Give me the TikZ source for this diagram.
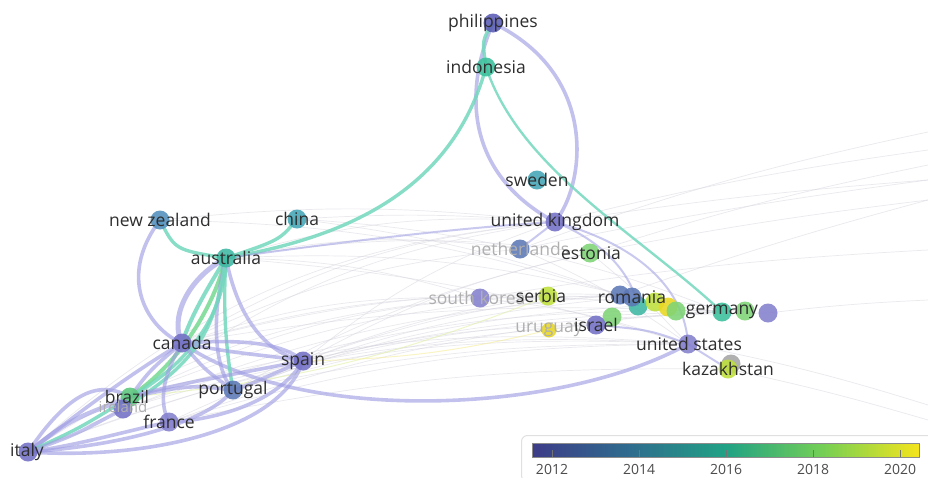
\documentclass[tikz,border=0pt]{standalone}
\usepackage{fontspec}
\setmainfont{Open Sans}
\usetikzlibrary{backgrounds}
\definecolor{epur}{HTML}{9E9CE2}
\definecolor{etea}{HTML}{74D8BE}
\definecolor{egrn}{HTML}{6CD68A}
\definecolor{faintc}{HTML}{D4D4DE}
\definecolor{cpur}{HTML}{7470C6}
\definecolor{cpur2}{HTML}{8580CE}
\definecolor{cdblue}{HTML}{5A5CB4}
\definecolor{cblue}{HTML}{5C78B6}
\definecolor{cblue2}{HTML}{5390BE}
\definecolor{ctealb}{HTML}{44A6B6}
\definecolor{cteal}{HTML}{3DB8A2}
\definecolor{cteal2}{HTML}{3BC09C}
\definecolor{cgrn}{HTML}{5CC87C}
\definecolor{clgrn}{HTML}{7ED476}
\definecolor{cygrn}{HTML}{BFE03C}
\definecolor{cyel}{HTML}{EAD820}
\definecolor{labc}{HTML}{2E2E2E}
\definecolor{fadec}{HTML}{AFAFAF}
\definecolor{v0}{HTML}{3D3C88}
\definecolor{v1}{HTML}{2F6C8E}
\definecolor{v2}{HTML}{21A285}
\definecolor{v3}{HTML}{74CF55}
\definecolor{v4}{HTML}{F5E51C}
\pgfdeclarehorizontalshading{viridisbar}{100bp}{color(0bp)=(v0); color(25bp)=(v0); color(37.5bp)=(v1); color(50bp)=(v2); color(62.5bp)=(v3); color(75bp)=(v4); color(100bp)=(v4)}
\tikzset{
  bub/.style={circle, minimum size=19pt, inner sep=0pt, fill opacity=0.88},
  lab/.style={text=labc, font=\fontsize{17.5}{18}\selectfont, inner sep=0pt},
  fadelab/.style={lab, text=fadec},
  pe/.style={draw=epur, line width=3.6pt, opacity=0.62},
  pthin/.style={draw=epur, line width=2pt, opacity=0.55},
  te/.style={draw=etea, line width=3.4pt, opacity=0.85},
  ge/.style={draw=egrn, line width=4pt, opacity=0.8},
  fe/.style={draw=faintc, line width=0.7pt, opacity=0.5},
  tickl/.style={text=black!70, font=\fontsize{14}{15}\selectfont, inner sep=0pt}
}
\begin{document}
\begin{tikzpicture}[x=1pt,y=-1pt]
\useasboundingbox (0,0) rectangle (928,477);

% ---------- nodes (circles) ----------
\node[bub, fill=cdblue] (phil) at (493,23) {};
\node[bub, fill=cteal2] (indo) at (486,67) {};
\node[bub, fill=ctealb] (swe) at (537,180) {};
\node[bub, fill=cpur] (uk) at (555,222) {};
\node[bub, fill=cblue] (neth) at (520,249) {};
\node[bub, fill=clgrn] (est) at (590,253) {};
\node[bub, fill=ctealb] (chn) at (297,219) {};
\node[bub, fill=cblue2] (nz) at (160,220) {};
\node[bub, fill=cteal] (aus) at (226,258) {};
\node[bub, fill=cpur] (can) at (182,343) {};
\node[bub, fill=cpur] (spa) at (303,361) {};
\node[bub, fill=cblue] (por) at (233,390) {};
\node[bub, fill=cgrn] (bra) at (130,397) {};
\node[bub, fill=cpur] (ire) at (123,409) {};
\node[bub, fill=cpur2] (fra) at (169,422) {};
\node[bub, fill=cpur] (ita) at (28,452) {};
\node[bub, fill=cpur2] (sko) at (480,298) {};
\node[bub, fill=cygrn] (ser) at (548,296) {};
\node[bub, fill=cyel, minimum size=15pt] (uru) at (549,330) {};
\node[bub, fill=clgrn] (isg) at (612,317) {};
\node[bub, fill=cpur] (isr) at (596,325) {};
\node[bub, fill=cblue] (rom1) at (620,295) {};
\node[bub, fill=cteal] (rom2) at (638,306) {};
\node[bub, fill=cblue] (rom3) at (632,297) {};
\node[bub, fill=cygrn] (rom4) at (655,302) {};
\node[bub, fill=cyel] (rom5) at (668,307) {};
\node[bub, fill=clgrn] (rom6) at (676,311) {};
\node[bub, fill=cteal2] (ger1) at (722,312) {};
\node[bub, fill=clgrn] (ger2) at (745,311) {};
\node[bub, fill=cpur2] (ger3) at (768,313) {};
\node[bub, fill=cpur2] (usa) at (688,344) {};
\node[bub, fill=black!35] (kaz2) at (731,364) {};
\node[bub, fill=cygrn] (kaz) at (728,369) {};

% right-edge anchors for faint links
\coordinate (r1) at (928,132);
\coordinate (r2) at (928,150);
\coordinate (r3) at (928,165);
\coordinate (r4) at (928,180);
\coordinate (r5) at (928,200);
\coordinate (r6) at (928,250);
\coordinate (r7) at (928,300);
\coordinate (r8) at (928,405);
\coordinate (r9) at (928,420);

\begin{scope}[on background layer]
\fill[white] (0,0) rectangle (928,477);
% ---------- faint background links ----------
\foreach \a/\b/\bd in {can/uk/12, can/neth/10, can/ser/8, can/rom1/8, can/ger1/6, can/sko/10,
  aus/uk/10, aus/est/8, aus/rom3/8, aus/usa/6, aus/neth/9, aus/sko/8,
  spa/rom1/8, spa/ger1/6, spa/isr/6, spa/uk/10, spa/ser/6, spa/est/8,
  ita/usa/12, ita/rom1/10, ita/ger3/10, ita/uk/18, ita/sko/14,
  bra/rom1/10, bra/uk/14, bra/usa/10, bra/ser/12,
  por/rom2/8, por/usa/6, por/isr/6, por/est/8,
  fra/ger1/8, fra/usa/8, fra/rom3/10, fra/kaz/6,
  nz/uk/6, nz/rom1/8, chn/uk/4, chn/rom1/6, chn/neth/4, ire/usa/10, ire/ger2/10,
  neth/ger1/4, neth/usa/6, sko/ger1/4, ser/ger2/4, est/usa/4, sko/usa/6, uru/ger1/4}
  { \draw[fe] (\a.center) to[bend left=\bd] (\b.center); }
\foreach \a/\b/\bd in {neth/r1/4, uk/r2/3, est/r3/3, neth/r4/2, rom1/r5/2, sko/r6/3,
  ger3/r7/2, usa/r8/3, kaz/r9/2, uk/r4/2, est/r5/2}
  { \draw[fe] (\a.center) to[bend left=\bd] (\b); }
\draw[draw=cygrn!45, line width=1pt, opacity=0.6] (ser.center) to[bend left=8] (bra.center);
\draw[draw=cyel!45, line width=1pt, opacity=0.6] (uru.center) to[bend left=6] (spa.center);

% ---------- main links ----------
\draw[pe] (phil.center) .. controls (462,95) and (468,175) .. (uk.center);
\draw[pe] (phil.center) .. controls (600,75) and (585,185) .. (uk.center);
\draw[te] (phil.center) .. controls (482,40) .. (indo.center);
\draw[te] (indo.center) .. controls (450,200) and (330,240) .. (aus.center);
\draw[te, line width=2.4pt] (indo.center) .. controls (520,170) and (640,235) .. (ger1.center);
\draw[pthin] (uk.center) .. controls (640,245) and (685,290) .. (usa.center);
\draw[pthin] (uk.center) .. controls (600,240) and (630,270) .. (rom2.center);
\draw[pthin] (uk.center) -- (neth.center);
\draw[pthin] (usa.center) -- (kaz.center);
\draw[pthin] (usa.center) .. controls (650,330) .. (isr.center);
\draw[pe] (can.center) .. controls (300,425) and (560,415) .. (usa.center);
\draw[pthin] (aus.center) .. controls (320,245) and (450,228) .. (uk.center);

% left cluster
\draw[pe] (nz.center) .. controls (115,280) and (150,330) .. (can.center);
\draw[te] (nz.center) .. controls (175,250) .. (aus.center);
\draw[te] (chn.center) .. controls (280,240) .. (aus.center);
\draw[pe, line width=5pt] (aus.center) .. controls (185,280) and (170,320) .. (can.center);
\draw[te, line width=4pt] (aus.center) .. controls (200,300) and (190,320) .. (can.center);
\draw[ge] (aus.center) .. controls (210,320) and (170,370) .. (bra.center);
\draw[te] (aus.center) .. controls (225,320) and (180,370) .. (bra.center);
\draw[pe] (aus.center) .. controls (210,320) and (215,370) .. (por.center);
\draw[te] (aus.center) .. controls (222,320) and (228,360) .. (por.center);
\draw[pe] (aus.center) .. controls (240,330) and (275,355) .. (spa.center);
\draw[te] (aus.center) .. controls (215,330) and (200,360) .. (ire.center);
\draw[pe] (can.center) .. controls (240,355) and (270,355) .. (spa.center);
\draw[pe] (can.center) .. controls (230,340) and (280,340) .. (spa.center);
\draw[pe] (can.center) .. controls (205,370) .. (por.center);
\draw[pe] (can.center) .. controls (160,380) and (160,405) .. (fra.center);
\draw[pe] (can.center) .. controls (150,370) .. (bra.center);
\draw[pe] (can.center) .. controls (120,380) and (70,420) .. (ita.center);
\draw[pe] (spa.center) .. controls (270,375) and (250,385) .. (por.center);
\draw[pe] (spa.center) .. controls (230,375) and (170,385) .. (bra.center);
\draw[pe] (spa.center) .. controls (280,400) and (220,420) .. (fra.center);
\draw[pe] (por.center) .. controls (190,385) .. (bra.center);
\draw[pe] (ita.center) .. controls (150,460) and (280,430) .. (spa.center);
\draw[pe] (ita.center) .. controls (130,445) and (210,420) .. (por.center);
\draw[pe] (ita.center) .. controls (80,445) and (130,430) .. (fra.center);
\draw[pe, line width=4.5pt] (ita.center) .. controls (70,420) .. (bra.center);
\draw[te] (ita.center) .. controls (80,428) .. (bra.center);
\draw[pe] (ita.center) .. controls (70,390) and (100,380) .. (bra.center);
\draw[pe] (ita.center) .. controls (75,435) .. (ire.center);
\end{scope}

% ---------- labels ----------
\node[lab] (phil-t) at (phil) {philippines};
\node[lab] (indo-t) at (indo) {indonesia};
\node[lab] (swe-t) at (swe) {sweden};
\node[lab] (uk-t) at (uk) {united kingdom};
\node[fadelab] (neth-t) at (neth) {netherlands};
\node[lab] (est-t) at ([xshift=1pt]est) {estonia};
\node[lab] (chn-t) at (chn) {china};
\node[lab] (nz-t) at (nz) {new zealand};
\node[lab] (aus-t) at (aus) {australia};
\node[lab] (can-t) at (can) {canada};
\node[lab] (spa-t) at (spa) {spain};
\node[lab] (por-t) at (por) {portugal};
\node[lab] (bra-t) at ([xshift=-3pt]bra) {brazil};
\node[fadelab, font=\fontsize{15}{15}\selectfont] (ire-t) at ([yshift=2pt]ire) {ireland};
\node[lab] (fra-t) at (fra) {france};
\node[lab] (ita-t) at ([xshift=-1pt]ita) {italy};
\node[fadelab] (sko-t) at ([xshift=-3pt]sko) {south korea};
\node[lab] (ser-t) at ([xshift=-7pt]ser) {serbia};
\node[fadelab] (uru-t) at (uru) {uruguay};
\node[lab] (isr-t) at (isr) {israel};
\node[lab] (rom-t) at (632,297) {romania};
\node[lab] (ger-t) at (ger1) {germany};
\node[lab] (usa-t) at ([xshift=1pt]usa) {united states};
\node[lab] (kaz-t) at (kaz) {kazakhstan};

% ---------- legend ----------
\node[draw=black!12, line width=1pt, fill=white, rounded corners=6pt, minimum width=416pt, minimum height=46pt, anchor=north west] (legbox) at (521,435) {};
\node[draw=black!45, line width=0.6pt, shading=viridisbar, minimum width=387pt, minimum height=14pt, inner sep=0pt, anchor=north west] (bar) at (532,443) {};
\foreach \yr/\xx in {2012/552, 2014/639, 2016/726, 2018/813, 2020/900} {
  \node[tickl] (t\yr) at (\xx,469) {\yr};
  \draw[black!55, line width=0.6pt] (\xx,450) -- (\xx,457);
}
\end{tikzpicture}
\end{document}
